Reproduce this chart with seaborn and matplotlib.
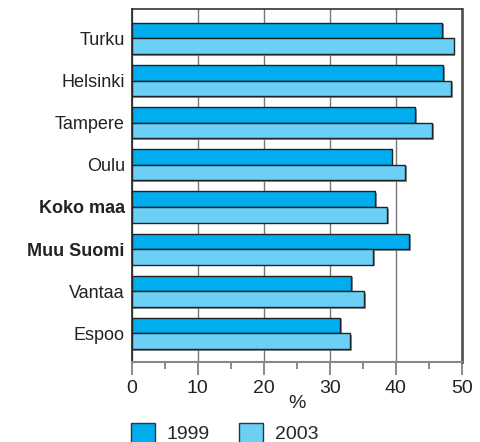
import pandas as pd
import matplotlib
matplotlib.use('Agg')
import matplotlib.pyplot as plt
import matplotlib.patheffects as pe
from matplotlib.ticker import MultipleLocator
import seaborn as sns

# Data
cities = ['Turku', 'Helsinki', 'Tampere', 'Oulu', 'Koko maa', 'Muu Suomi', 'Vantaa', 'Espoo']
bold_labels = ['Koko maa', 'Muu Suomi']
values_1999 = [47.0, 47.2, 42.9, 39.4, 36.9, 42.0, 33.3, 31.6]
values_2003 = [48.8, 48.4, 45.5, 41.4, 38.7, 36.6, 35.2, 33.1]
years = ['1999', '2003']
colors = ['#00AEEF', '#6BCFF6']

df = pd.DataFrame({
    'city': cities * 2,
    'value': values_1999 + values_2003,
    'year': [years[0]] * len(cities) + [years[1]] * len(cities),
})

sns.set_style('white')
plt.rcParams['font.family'] = ['Liberation Sans', 'DejaVu Sans']

fig = plt.figure(figsize=(4.8, 4.42), dpi=100)
ax = fig.add_axes([131.7 / 480, 1 - 362.3 / 442, 330 / 480, 352.8 / 442])

sns.barplot(data=df, y='city', x='value', hue='year', orient='h',
            palette=colors, width=0.74, gap=0, edgecolor='#222222',
            linewidth=1, saturation=1, ax=ax)

# faint drop shadow like the original print graphic
for p in ax.patches:
    p.set_path_effects([pe.SimplePatchShadow(offset=(1.2, -1.2), shadow_rgbFace='#777777', alpha=0.8),
                        pe.Normal()])

handles, labels = ax.get_legend_handles_labels()
ax.get_legend().remove()

ax.set_xlim(0, 50)
ax.set_ylim(len(cities) - 1 + 0.685, -0.685)
ax.xaxis.set_major_locator(MultipleLocator(10))
ax.xaxis.set_minor_locator(MultipleLocator(5))
ax.grid(True, axis='x', color='#777777', linewidth=1)
ax.set_axisbelow(True)

ax.tick_params(axis='x', which='major', length=9, width=1.2, color='#777777',
               labelsize=14, pad=4, bottom=True)
ax.tick_params(axis='x', which='minor', length=5, width=1.2, color='#777777', bottom=True)
ax.tick_params(axis='y', length=0, labelsize=13, pad=5)

for lbl in ax.get_yticklabels():
    if lbl.get_text() in bold_labels:
        lbl.set_fontweight('bold')
    lbl.set_color('#222222')
for lbl in ax.get_xticklabels():
    lbl.set_color('#222222')

ax.set_ylabel('')
ax.set_xlabel('%', fontsize=14, labelpad=-2, color='#222222')

ax.spines['left'].set_color('#222222')
ax.spines['left'].set_linewidth(1.2)
ax.spines['top'].set_color('#333333')
ax.spines['top'].set_linewidth(1.2)
ax.spines['right'].set_color('#555555')
ax.spines['right'].set_linewidth(2)
ax.spines['bottom'].set_color('#888888')
ax.spines['bottom'].set_linewidth(1.5)

leg = fig.legend(handles, labels, loc='center left', ncol=2,
                 bbox_to_anchor=(131 / 480, 1 - 433 / 442), frameon=False,
                 fontsize=14, handlelength=1.24, handleheight=1.24,
                 handletextpad=0.6, columnspacing=1.5, borderpad=0, borderaxespad=0)
for h in leg.legend_handles:
    h.set_edgecolor('#333333')
    h.set_linewidth(1)
    h.set_path_effects([])

fig.savefig('out.png', dpi=100)
